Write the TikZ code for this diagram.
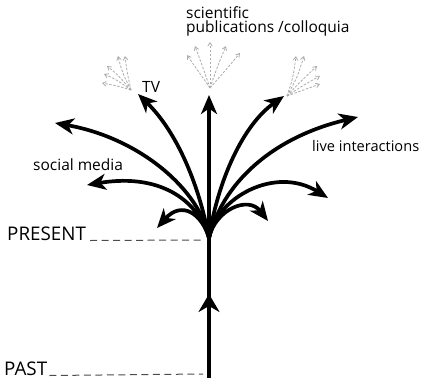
\documentclass[tikz,border=0pt]{standalone}
\usepackage{fontspec}
\setmainfont{Open Sans}
\usetikzlibrary{arrows.meta,decorations.markings}
\begin{document}
\begin{tikzpicture}[x=1pt,y=-1pt,
  branch/.style={line width=3.7pt,-{Stealth[length=19pt,width=16pt,inset=5.5pt]}},
  dand/.style={gray!65,line width=0.8pt,dash pattern=on 2.5pt off 1.5pt,-{Straight Barb[length=3.5pt,width=4.5pt]}},
  guide/.style={black!70,line width=1pt,dash pattern=on 7pt off 4.5pt},
  lbl/.style={font=\fontsize{15.5}{17}\selectfont,inner sep=0pt},
  biglbl/.style={font=\fontsize{18.8}{20}\selectfont,inner sep=0pt}]
\useasboundingbox (0,0) rectangle (425,383);
% key points
\coordinate (O) at (209,238);
\coordinate (B) at (209,378);
\coordinate (tL) at (55,123);
\coordinate (tS) at (87,185);
\coordinate (tSL) at (157,228);
\coordinate (tTV) at (138,94);
\coordinate (tC) at (209,95);
\coordinate (tRU) at (284,96);
\coordinate (tR) at (358,117);
\coordinate (tRM) at (328,198);
\coordinate (tSR) at (268,221);
% stem
\draw[line width=3.8pt,postaction={decorate},
  decoration={markings,mark=at position 0.6 with {\arrow{Stealth[length=18pt,width=21pt,inset=6pt]}}}]
  (B) -- (O);
% branches
\draw[branch] (O) .. controls (200,190) and (140,138) .. (tL);
\draw[branch] (O) .. controls (200,205) and (165,172) .. (tS);
\draw[branch] (O) .. controls (202,214) and (182,200) .. (tSL);
\draw[branch] (O) .. controls (198,180) and (175,130) .. (tTV);
\draw[branch] (O) -- (tC);
\draw[branch] (O) .. controls (218,180) and (243,125) .. (tRU);
\draw[branch] (O) .. controls (222,185) and (270,138) .. (tR);
\draw[branch] (O) .. controls (216,198) and (275,165) .. (tRM);
\draw[branch] (O) .. controls (215,210) and (248,195) .. (tSR);
% dandelions
\coordinate (dL) at (131,90);
\draw[dand] (dL) .. controls (118,86) .. (102,83);
\draw[dand] (dL) .. controls (117,80) .. (104,74);
\draw[dand] (dL) .. controls (118,75) .. (107,66);
\draw[dand] (dL) .. controls (122,72) .. (118,56);
\draw[dand] (dL) .. controls (127,72) .. (125,56);
\coordinate (dC) at (210,88);
\draw[dand] (dC) .. controls (198,72) .. (187,55);
\draw[dand] (dC) .. controls (202,65) .. (195,46);
\draw[dand] (dC) -- (210,42);
\draw[dand] (dC) .. controls (218,65) .. (226,46);
\draw[dand] (dC) .. controls (224,72) .. (240,53);
\coordinate (dR) at (287,96);
\draw[dand] (dR) .. controls (293,78) .. (296,56);
\draw[dand] (dR) .. controls (297,78) .. (304,56);
\draw[dand] (dR) .. controls (300,82) .. (317,66);
\draw[dand] (dR) .. controls (302,86) .. (320,76);
\draw[dand] (dR) .. controls (303,90) .. (320,84);
% labels
\node[lbl,anchor=base west] (sci) at (186,18) {scientific};
\node[lbl,anchor=base west] (pub) at (186,32) {publications /colloquia};
\node[lbl,anchor=base west] (tv) at (142,92) {TV};
\node[lbl,anchor=base west] (sm) at (33,170) {social media};
\node[lbl,anchor=base west,font=\fontsize{14.6}{16}\selectfont] (li) at (312,151) {live interactions};
\node[biglbl,anchor=base west] (pres) at (7,240) {PRESENT};
\node[biglbl,anchor=base west] (past) at (4,375) {PAST};
% dashed guides
\coordinate (pe) at (203,240);
\coordinate (qe) at (203,374);
\draw[guide] ([xshift=4pt,yshift=-0.5pt]pres.base east) -- (pe);
\draw[guide] ([xshift=2pt,yshift=-0.5pt]past.base east) -- (qe);
\end{tikzpicture}
\end{document}
